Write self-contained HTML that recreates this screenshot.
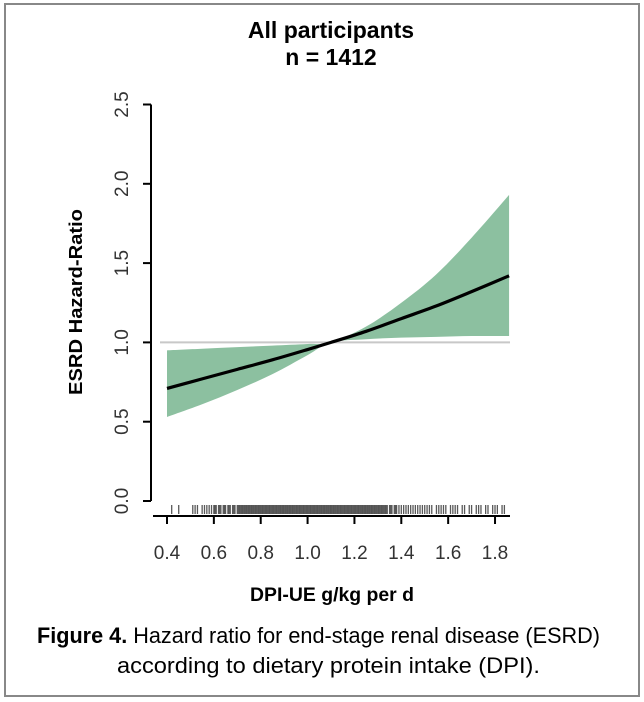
<!DOCTYPE html>
<html><head><meta charset="utf-8"><style>
body{margin:0;background:#fff;}
svg{display:block;font-family:"Liberation Sans",Arial,sans-serif;}
</style></head><body>
<svg width="644" height="702" viewBox="0 0 644 702">
<rect x="5" y="4" width="634" height="692" fill="#fff" stroke="#888" stroke-width="2"/>
<text x="331" y="38" font-size="23" font-weight="bold" text-anchor="middle">All participants</text>
<text x="331" y="65" font-size="23" font-weight="bold" text-anchor="middle">n = 1412</text>
<g id="plot"></g>
<text transform="translate(82,302) rotate(-90)" font-size="18" font-weight="bold" text-anchor="middle" textLength="186" lengthAdjust="spacingAndGlyphs">ESRD Hazard-Ratio</text>
<text x="332" y="601" font-size="19" font-weight="bold" text-anchor="middle" textLength="164" lengthAdjust="spacingAndGlyphs">DPI-UE g/kg per d</text>
<text x="37" y="643" font-size="22" textLength="563" lengthAdjust="spacingAndGlyphs"><tspan font-weight="bold">Figure 4.</tspan>  Hazard ratio for end-stage renal disease (ESRD)</text>
<text x="117" y="673" font-size="22" textLength="423" lengthAdjust="spacingAndGlyphs">according to dietary protein intake (DPI).</text>
</svg>
<script>
const xs = [0.4,0.55,0.7,0.85,1.0,1.1,1.25,1.4,1.55,1.7,1.86];
const hr = [0.71,0.77,0.83,0.89,0.955,1.0,1.07,1.15,1.23,1.32,1.42];
const upper = [0.95,0.96,0.97,0.98,0.99,1.0,1.10,1.25,1.43,1.66,1.93];
const lower = [0.53,0.61,0.70,0.80,0.92,1.0,1.02,1.03,1.035,1.04,1.04];
const xTicks = [0.4,0.6,0.8,1.0,1.2,1.4,1.6,1.8];
const xTickLabels = ["0.4","0.6","0.8","1.0","1.2","1.4","1.6","1.8"];
const yTicks = [0,0.5,1,1.5,2,2.5];
const yTickLabels = ["0.0","0.5","1.0","1.5","2.0","2.5"];
const rug = [0.42,0.45,0.51,0.52,0.53,0.55,0.56,0.57,0.58,0.59,0.6,0.605,0.61,0.62,0.625,0.63,0.64,0.645,0.65,0.66,0.665,0.67,0.68,0.685,0.69,0.7,0.705,0.71,0.715,0.72,0.725,0.73,0.735,0.74,0.745,0.75,0.755,0.76,0.765,0.77,0.775,0.78,0.785,0.79,0.795,0.8,0.805,0.81,0.815,0.82,0.825,0.83,0.835,0.84,0.845,0.85,0.855,0.86,0.865,0.87,0.875,0.88,0.885,0.89,0.895,0.9,0.905,0.91,0.915,0.92,0.925,0.93,0.935,0.94,0.945,0.95,0.955,0.96,0.965,0.97,0.975,0.98,0.985,0.99,0.995,1.0,1.005,1.01,1.015,1.02,1.025,1.03,1.035,1.04,1.045,1.05,1.055,1.06,1.065,1.07,1.075,1.08,1.085,1.09,1.095,1.1,1.105,1.11,1.115,1.12,1.125,1.13,1.135,1.14,1.145,1.15,1.155,1.16,1.165,1.17,1.175,1.18,1.185,1.19,1.195,1.2,1.205,1.21,1.215,1.22,1.225,1.23,1.235,1.24,1.245,1.25,1.255,1.26,1.265,1.27,1.275,1.28,1.285,1.29,1.295,1.3,1.305,1.31,1.315,1.32,1.325,1.33,1.335,1.34,1.35,1.355,1.36,1.37,1.375,1.38,1.39,1.4,1.41,1.42,1.43,1.44,1.45,1.46,1.47,1.48,1.49,1.5,1.51,1.52,1.53,1.55,1.56,1.57,1.58,1.59,1.61,1.62,1.63,1.64,1.66,1.67,1.69,1.7,1.72,1.73,1.74,1.76,1.77,1.79,1.8,1.81,1.83,1.84];
const NS="http://www.w3.org/2000/svg";
const g=document.getElementById('plot');
function sx(v){return 167+(v-0.4)/0.2*46.86;}
function sy(v){return 501-v/0.5*79.3;}
function mk(t,a){const e=document.createElementNS(NS,t);for(const k in a)e.setAttribute(k,a[k]);g.appendChild(e);return e;}
function smooth(pts,start){
 let cd=(start?'M':'L')+pts[0].join(',');
 for(let i=1;i<pts.length;i++){const p0=pts[i-2]||pts[i-1],p1=pts[i-1],p2=pts[i],p3=pts[i+1]||p2;
 cd+=' C'+(p1[0]+(p2[0]-p0[0])/6)+','+(p1[1]+(p2[1]-p0[1])/6)+' '+(p2[0]-(p3[0]-p1[0])/6)+','+(p2[1]-(p3[1]-p1[1])/6)+' '+p2[0]+','+p2[1];}
 return cd;}
const up=xs.map((x,i)=>[sx(x),sy(upper[i])]);
const lo=xs.map((x,i)=>[sx(x),sy(lower[i])]).reverse();
let e=mk('path',{d:smooth(up,true)+' '+smooth(lo,false)+'Z',fill:'#8cc0a0'});


e=mk('line',{x1:160,x2:510,y1:sy(1),y2:sy(1),stroke:'#c8c8c8','stroke-width':2});


e=mk('path',{d:smooth(xs.map((x,i)=>[sx(x),sy(hr[i])]),true),fill:'none',stroke:'#000','stroke-width':3.2});


e=mk('line',{x1:151,x2:151,y1:sy(2.5),y2:sy(0),stroke:'#000','stroke-width':2});


e=mk('line',{x1:153,x2:510,y1:516,y2:516,stroke:'#000','stroke-width':2});


yTicks.forEach((v,i)=>{
 const t=mk('line',{x1:143,x2:151,y1:sy(v),y2:sy(v),stroke:'#000','stroke-width':2});
 
 
 const l=mk('text',{transform:'translate(128,'+sy(v)+') rotate(-90)','font-size':19,'text-anchor':'middle',fill:'#333'});
 l.textContent=yTickLabels[i];
 
 
});
xTicks.forEach((v,i)=>{
 const t=mk('line',{x1:sx(v),x2:sx(v),y1:516,y2:524,stroke:'#000','stroke-width':2});
 
 
 const l=mk('text',{x:sx(v),y:559,'font-size':19,'text-anchor':'middle',fill:'#333'});
 l.textContent=xTickLabels[i];
 
 
});
rug.forEach(v=>{
 const t=mk('line',{x1:sx(v),x2:sx(v),y1:505,y2:514,stroke:'#222','stroke-width':1.3,'stroke-opacity':0.75});
 
 
});
</script>
</body></html>
